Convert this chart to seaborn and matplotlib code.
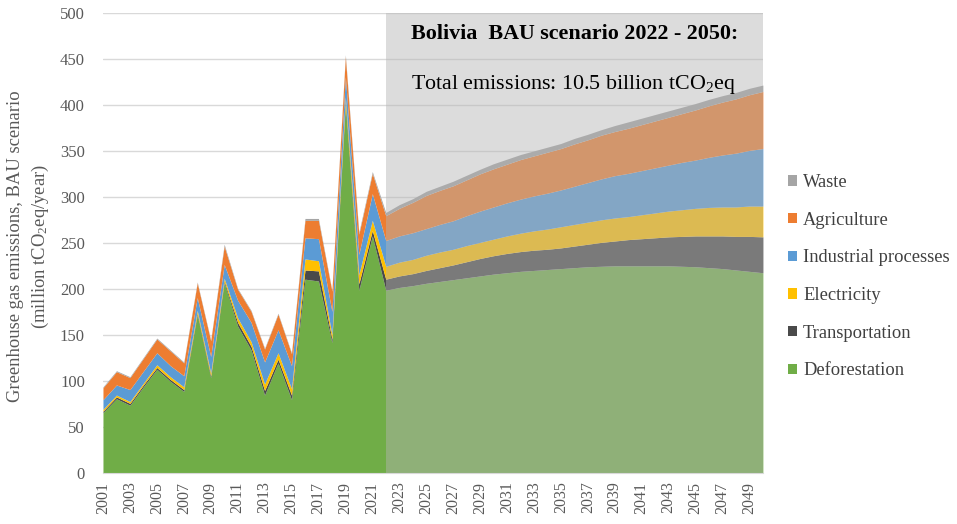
import numpy as np
import pandas as pd
import seaborn as sns
import matplotlib.pyplot as plt

years = list(range(2001, 2051))

# historical 2001-2021, then BAU projection 2022-2050 (million tCO2eq/year)
deforestation = [66, 81, 74, 94, 113, 100, 89, 172, 104, 207,
                 160, 134, 85, 120, 80, 211, 209, 142, 400, 199, 258,
                 199, 202, 204, 206.5, 208.5, 210.5, 212.5, 214.5, 216.5, 218,
                 219.5, 220.5, 221.5, 222.5, 223.5, 224.5, 225, 225.5, 225.5, 225.5,
                 225.5, 225.5, 225, 224.5, 223.5, 222.5, 221, 219.5, 218]
transportation = [1.5, 2, 2, 2, 2, 2, 2, 2, 2, 2,
                  4, 4, 5, 4, 5, 10, 11, 4, 4, 7, 6,
                  12, 12.5, 13, 14, 15, 16, 17.5, 19, 20, 21,
                  21.5, 22, 22, 22.5, 23.5, 24.5, 26, 27, 28.5, 29.5,
                  30.5, 31.5, 32.5, 33.5, 34.5, 35.5, 36.5, 38, 39]
electricity = [2, 2, 2, 2, 3, 3, 3, 3, 3, 3,
               5, 5, 7, 7, 7, 12, 11, 5, 5, 10, 11,
               14, 15, 15.5, 16.5, 17, 17, 17.5, 17.5, 18, 19,
               20, 21, 22, 23, 23.5, 24, 24.5, 25, 25, 26,
               27, 28, 29, 30, 31, 31.5, 32, 33, 33.5]
industrial = [10.5, 11, 13, 13, 13, 12, 12, 14, 18, 15,
              19, 21, 24, 25, 25, 23, 24, 25, 22, 22, 29,
              28, 28.5, 29, 29, 30, 31, 32.5, 34, 35, 36,
              37, 38, 39, 40, 41.5, 43, 44.5, 46, 47, 48,
              49, 50, 51.5, 52.5, 54.5, 56.5, 58.5, 60.5, 62.5]
agriculture = [13, 14.5, 13, 14, 15, 16, 14, 16, 17, 20,
               12, 12, 14, 17, 13, 19, 20, 22, 22, 22, 22,
               27, 30, 33, 36, 37, 38, 39, 40.5, 41.5, 42,
               43, 43.5, 44.5, 45, 46, 46.5, 47.5, 48, 49, 50,
               51, 52, 53, 54.5, 56, 57.5, 59, 60.5, 62]
waste = [1, 1, 1, 1, 1, 1, 1, 1, 1, 2,
         1, 1, 1, 1, 1, 2, 2, 1, 2, 2, 2,
         3.5, 4, 4, 4.5, 4.5, 5, 5, 5, 5.5, 5.5,
         5.5, 5.5, 5.5, 5.5, 6, 6, 6, 6.5, 7, 7,
         7, 7, 7, 7, 7, 7, 7, 7, 7]

sectors = ['Deforestation', 'Transportation', 'Electricity',
           'Industrial processes', 'Agriculture', 'Waste']
colors = ['#70ad47', '#4a4a4a', '#ffc000', '#5b9bd5', '#ed7d31', '#a5a5a5']

df = pd.DataFrame({'Year': years, 'Deforestation': deforestation,
                   'Transportation': transportation, 'Electricity': electricity,
                   'Industrial processes': industrial, 'Agriculture': agriculture,
                   'Waste': waste})

sns.set_style('white')
plt.rcParams['font.family'] = ['Liberation Serif', 'DejaVu Serif']
plt.rcParams['mathtext.fontset'] = 'custom'
plt.rcParams['mathtext.rm'] = 'Liberation Serif'
plt.rcParams['mathtext.it'] = 'Liberation Serif'
plt.rcParams['mathtext.bf'] = 'Liberation Serif:bold'

fig = plt.figure(figsize=(9.57, 5.24), dpi=100)
ax = fig.add_axes([0.1076, 0.0968, 0.6895, 0.8778])

ax.stackplot(df['Year'], *[df[s] for s in sectors], labels=sectors,
             colors=colors, linewidth=0, zorder=2)

# BAU scenario shading (semi-transparent grey over the projection)
ax.axvspan(2022, 2050, color='#b4b4b4', alpha=0.46, lw=0, zorder=3)

ax.set_xlim(2001, 2050)
ax.set_ylim(0, 500)
ax.set_yticks(np.arange(0, 501, 50))
ax.set_xticks(years[::2])
ax.set_xticks(years, minor=True)
ax.yaxis.grid(True, color='#d9d9d9', lw=1, zorder=1)
ax.set_axisbelow(True)
sns.despine(ax=ax, left=True, top=True, right=True)
ax.spines['bottom'].set_color('#d9d9d9')

ax.tick_params(axis='x', which='both', direction='out', length=4, color='#bfbfbf',
               labelcolor='#595959', labelsize=11.5, labelrotation=90, pad=2)
ax.tick_params(axis='y', length=0, labelcolor='#595959', labelsize=12, pad=13)

# y label as two centred lines
fig.text(0.0157, 0.5305, 'Greenhouse gas emissions, BAU scenario', rotation=90,
         fontsize=13.4, color='#595959', ha='center', va='center')
fig.text(0.0418, 0.5305, '(million tCO$_2$eq/year)', rotation=90,
         fontsize=13.4, color='#595959', ha='center', va='center')

ax.text(2023.9, 477, 'Bolivia  BAU scenario 2022 - 2050:', fontsize=15.8,
        fontweight='bold', color='black', va='center', ha='left', zorder=4)
ax.text(2023.9, 423, 'Total emissions: 10.5 billion tCO$_2$eq', fontsize=15.8,
        color='black', va='center', ha='left', zorder=4)

handles, labels = ax.get_legend_handles_labels()
leg = fig.legend(handles[::-1], labels[::-1], loc='center left',
                 bbox_to_anchor=(0.814, 0.472), frameon=False, fontsize=13.3,
                 handlelength=0.5, handleheight=0.5, handletextpad=0.3,
                 labelspacing=1.12, labelcolor='#404040', borderpad=0)

fig.savefig('out.png', dpi=100)
